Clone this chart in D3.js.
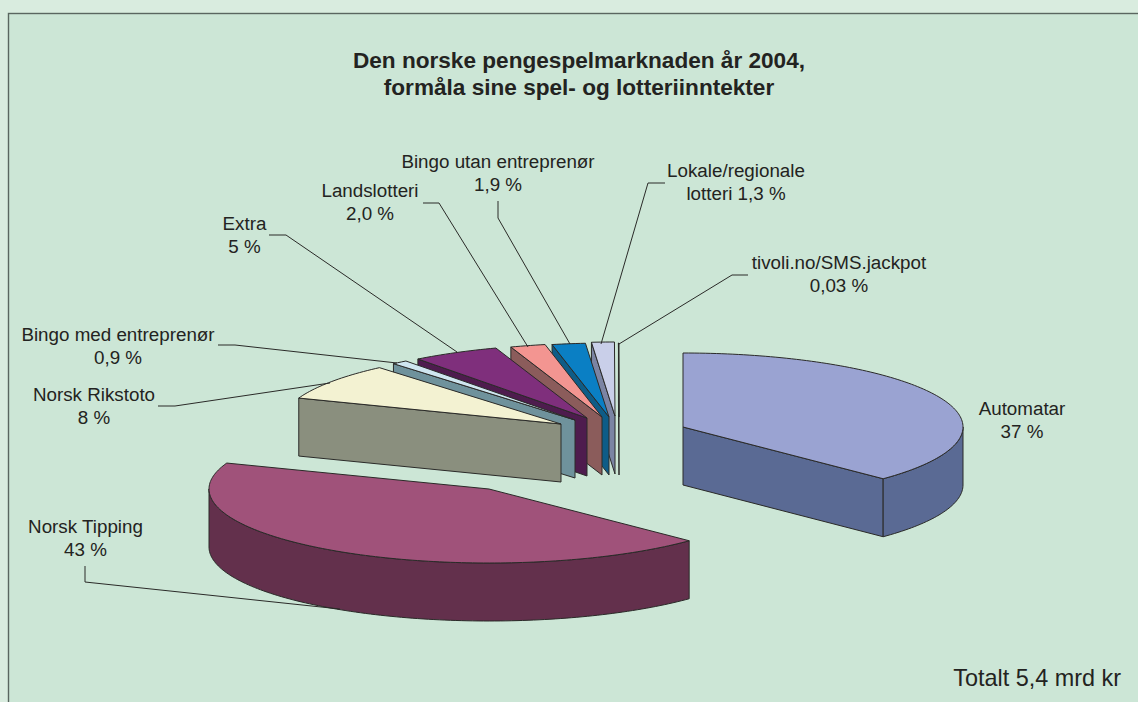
<!DOCTYPE html>
<html><head><meta charset="utf-8">
<style>html,body{margin:0;padding:0;background:#d9ecdf;overflow:hidden}svg{display:block}text{font-family:"Liberation Sans",Arial,sans-serif;fill:#232321}</style>
<script src="https://cdn.jsdelivr.net/npm/d3@7"></script>
</head><body><svg id="c" width="1138" height="702"></svg>
<script>
// Data
const categories = ["Automatar","Norsk Tipping","Norsk Rikstoto","Bingo med entreprenør","Extra","Landslotteri","Bingo utan entreprenør","Lokale/regionale lotteri","tivoli.no/SMS.jackpot"];
const shares = [37,43,8,0.9,5,2.0,1.9,1.3,0.03];
const labelLines = [["Automatar","37 %"],["Norsk Tipping","43 %"],["Norsk Rikstoto","8 %"],["Bingo med entreprenør","0,9 %"],["Extra","5 %"],["Landslotteri","2,0 %"],["Bingo utan entreprenør","1,9 %"],["Lokale/regionale","lotteri 1,3 %"],["tivoli.no/SMS.jackpot","0,03 %"]];
const titleLines = ["Den norske pengespelmarknaden år 2004,","formåla sine spel- og lotteriinntekter"];
const totalLabel = "Totalt 5,4 mrd kr";

// Styles & layout
const topColors = ["#9aa3d2","#a0527a","#f3f2d2","#cfe6f0","#7f2f7c","#f39591","#0a7fc4","#c9cfe9","#d5e6dc"];
const sideColors = ["#5a6a94","#63304c","#8a8f7e","#6f929c","#4e1c4e","#8b5c5b","#0e5c87","#7b84a3","#9aa"];
const apexes = [[683,427],[489,489],[561,424],[575,420],[587,418],[602,417],[609,417],[615,416],[619,417]];
const labelPos = [[1022,415],[85.5,533],[94,401],[118,341],[244.5,230],[370,197],[498,168],[736,177],[839,269]];
const leaders = [null,[[85,566],[85,582],[340,609]],[[158,406],[175,406],[330,383]],[[218,345],[235,345],[397,363]],[[269,235],[286,235],[457,352]],[[423,203],[439,203],[528,347]],[[498,201],[498,218],[570,344]],[[665,183],[648,183],[601,344]],[[748,275],[732,275],[619,344]]];
const rx = 280, ry = 74, depth = 58, TAU = 2*Math.PI;
const ink = "#2a2a28";

const svg = d3.select("#c");
// panel
svg.append("rect").attr("x",8.5).attr("y",13.5).attr("width",1140).attr("height",700).attr("fill","#cce6d6").attr("stroke","#5a6660").attr("stroke-width",1.4);

const pie = d3.pie().value(d=>d).sort(null).startAngle(0).endAngle(TAU);
const arcs = pie(shares);
const sx = d3.scaleLinear().domain([-1,1]).range([-rx,rx]);
const sy = d3.scaleLinear().domain([-1,1]).range([ry,-ry]);
const pt = (i,a,dz=0)=>[apexes[i][0]+sx(Math.sin(a)), apexes[i][1]+sy(Math.cos(a))+dz];
const line = d3.line();
const rim = (i,a0,a1,dz=0)=>{const n=Math.max(2,Math.ceil((a1-a0)/0.02));return d3.range(n+1).map(k=>pt(i,a0+(a1-a0)*k/n,dz));};

function drawSlice(i){
  const d = arcs[i], a0=d.startAngle, a1=d.endAngle, g=svg.append("g"), A=apexes[i];
  const poly=(pts,fill)=>g.append("path").attr("d",line(pts)+"Z").attr("fill",fill).attr("stroke",ink).attr("stroke-width",1).attr("stroke-linejoin","round");
  // cut faces
  if(Math.sin(a0)<0){const p=pt(i,a0);poly([p,A,[A[0],A[1]+depth],[p[0],p[1]+depth]],sideColors[i]);}
  if(Math.sin(a1)>0){const p=pt(i,a1);poly([A,p,[p[0],p[1]+depth],[A[0],A[1]+depth]],sideColors[i]);}
  // outer wall
  const lo=Math.max(a0,Math.PI/2), hi=Math.min(a1,3*Math.PI/2);
  if(hi>lo){const r=rim(i,lo,hi);poly(r.concat(r.slice().reverse().map(p=>[p[0],p[1]+depth])),sideColors[i]);}
  // top
  poly([A].concat(rim(i,a0,a1)),topColors[i]);
}
[8,7,6,5,4,3,2,1,0].forEach(drawSlice);

// leaders
leaders.forEach(l=>{if(l)svg.append("path").attr("d",line(l)).attr("fill","none").attr("stroke",ink).attr("stroke-width",1);});

// labels
labelLines.forEach((ls,i)=>{const t=svg.append("text").attr("text-anchor","middle").attr("font-size",18.8);
  ls.forEach((s,k)=>t.append("tspan").attr("x",labelPos[i][0]).attr("y",labelPos[i][1]+k*22.7).text(s));});
titleLines.forEach((s,k)=>svg.append("text").attr("x",579).attr("y",68+k*27).attr("text-anchor","middle").attr("font-size",22.6).attr("font-weight","bold").text(s));
svg.append("text").attr("x",1121).attr("y",686).attr("text-anchor","end").attr("font-size",23.4).text(totalLabel);
</script></body></html>
